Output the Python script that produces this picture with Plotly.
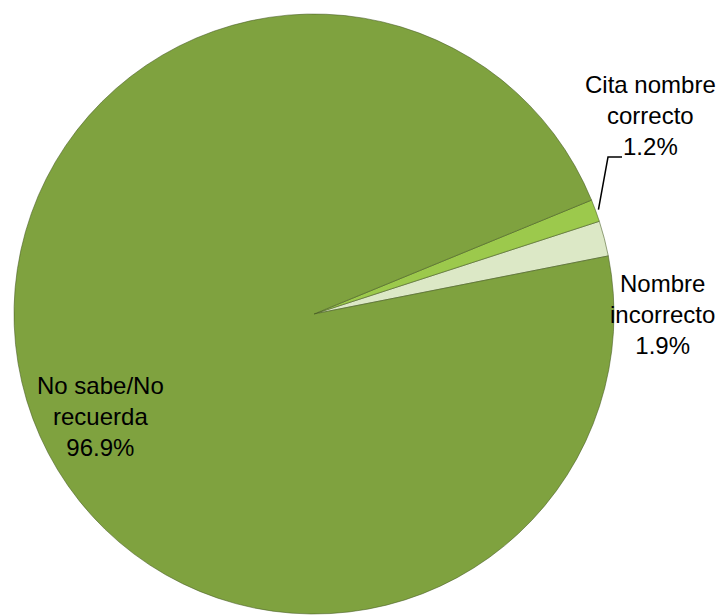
import math
import plotly.graph_objects as go

# Data (counterclockwise order starting from the rotation angle)
labels = ["Nombre incorrecto", "Cita nombre correcto", "No sabe/No recuerda"]
values = [1.9, 1.2, 96.9]
label_lines = [["Nombre", "incorrecto"], ["Cita nombre", "correcto"], ["No sabe/No", "recuerda"]]
colors = ["#dce8c6", "#9cc94c", "#7fa23f"]

W, H = 725, 615
cx, cy, r = 314, 314, 300  # pie centre / radius in pixels
rotation = 72  # boundary between first and second slice, clockwise from 12 o'clock

fig = go.Figure(go.Pie(
    labels=labels,
    values=values,
    sort=False,
    direction="counterclockwise",
    rotation=rotation,
    marker=dict(colors=colors, line=dict(color="rgba(70,90,35,0.55)", width=1)),
    textinfo="none",
    hoverinfo="label+percent",
    showlegend=False,
    domain=dict(x=[(cx - r) / W, (cx + r) / W], y=[(H - cy - r) / H, (H - cy + r) / H]),
))

font = dict(family="Liberation Sans, Arial, sans-serif", size=24, color="#000000")
# label centres in pixels
label_pos = [(662, 314), (650, 116), (100, 416)]
for lines, v, (px, py) in zip(label_lines, values, label_pos):
    fig.add_annotation(
        x=px / W, y=1 - py / H, xref="paper", yref="paper",
        text="<br>".join(lines + [f"{v:.1f}%"]),
        showarrow=False, font=font, align="center",
        xanchor="center", yanchor="middle",
    )

# leader line for "Cita nombre correcto"
total = sum(values)
mid = 90 - rotation + (values[1] / 2) / total * 360  # degrees above east
sx = cx + r * 1.01 * math.cos(math.radians(mid))
sy = cy - r * 1.01 * math.sin(math.radians(mid))
pts = [(sx, sy), (608, 157), (622, 157)]
path = "M " + " L ".join(f"{x / W},{1 - y / H}" for x, y in pts)
fig.add_shape(type="path", path=path, xref="paper", yref="paper",
              line=dict(color="black", width=1.5))

fig.update_layout(
    width=W, height=H, autosize=False,
    margin=dict(l=0, r=0, t=0, b=0),
    paper_bgcolor="white", plot_bgcolor="white",
)

fig.write_html(
    "out.html",
    config={"displayModeBar": False},
    post_script="document.body.style.margin='0';document.body.style.overflow='hidden';",
)
